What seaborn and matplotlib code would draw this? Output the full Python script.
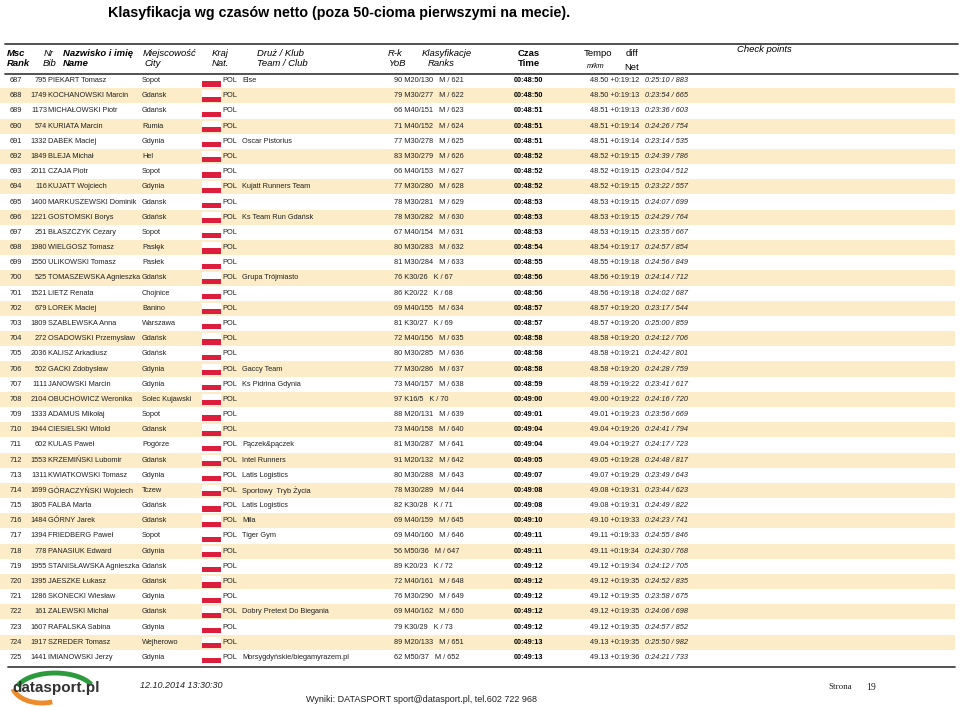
"""
Results page: net time classification, rows 687-725, with striped rows
"""
import numpy as np
import pandas as pd
import matplotlib
matplotlib.use("Agg")
import matplotlib.pyplot as plt
from matplotlib.colors import ListedColormap
from matplotlib.patches import Rectangle
import seaborn as sns

# table data
rank = [687, 688, 689, 690, 691, 692, 693, 694, 695, 696, 697, 698, 699, 700, 701, 702, 703, 704, 705, 706,
        707, 708, 709, 710, 711, 712, 713, 714, 715, 716, 717, 718, 719, 720, 721, 722, 723, 724, 725]
bib = [795, 1749, 1173, 574, 1332, 1849, 2011, 116, 1400, 1221, 251, 1980, 1550, 525, 1521, 679, 1809, 272, 2036, 502,
       1111, 2104, 1333, 1944, 602, 1553, 1311, 1699, 1805, 1484, 1394, 778, 1955, 1395, 1286, 161, 1607, 1917, 1441]
name = ["PIEKART Tomasz", "KOCHANOWSKI Marcin", "MICHAŁOWSKI Piotr", "KURIATA Marcin", "DABEK Maciej",
        "BLEJA Michał", "CZAJA Piotr", "KUJATT Wojciech", "MARKUSZEWSKI Dominik", "GOSTOMSKI Borys",
        "BŁASZCZYK Cezary", "WIELGOSZ Tomasz", "ULIKOWSKI Tomasz", "TOMASZEWSKA Agnieszka", "LIETZ Renata",
        "LOREK Maciej", "SZABLEWSKA Anna", "OSADOWSKI Przemysław", "KALISZ Arkadiusz", "GACKI Zdobysław",
        "JANOWSKI Marcin", "OBUCHOWICZ Weronika", "ADAMUS Mikołaj", "CIESIELSKI Witold", "KULAS Paweł",
        "KRZEMIŃSKI Lubomir", "KWIATKOWSKI Tomasz", "GÓRACZYŃSKI Wojciech", "FALBA Marta", "GÓRNY Jarek",
        "FRIEDBERG Paweł", "PANASIUK Edward", "STANISŁAWSKA Agnieszka", "JAESZKE Łukasz", "SKONECKI Wiesław",
        "ZALEWSKI Michał", "RAFALSKA Sabina", "SZREDER Tomasz", "IMIANOWSKI Jerzy"]
city = ["Sopot", "Gdańsk", "Gdańsk", "Rumia", "Gdynia", "Hel", "Sopot", "Gdynia", "Gdansk", "Gdańsk",
        "Sopot", "Pasłęk", "Pasłek", "Gdańsk", "Chojnice", "Banino", "Warszawa", "Gdańsk", "Gdańsk", "Gdynia",
        "Gdynia", "Solec Kujawski", "Sopot", "Gdansk", "Pogórze", "Gdańsk", "Gdynia", "Tczew", "Gdańsk", "Gdańsk",
        "Sopot", "Gdynia", "Gdańsk", "Gdańsk", "Gdynia", "Gdańsk", "Gdynia", "Wejherowo", "Gdynia"]
team = ["Else", "", "", "", "Oscar Pistorius", "", "", "Kujatt Runners Team", "", "Ks Team Run Gdańsk",
        "", "", "", "Grupa Trójmiasto", "", "", "", "", "", "Gaccy Team",
        "Ks Pidrina Gdynia", "", "", "", "Pączek&pączek", "Intel Runners", "Latis Logistics", "Sportowy  Tryb Życia",
        "Latis Logistics", "Mila", "Tiger Gym", "", "", "", "", "Dobry Pretext Do Biegania", "", "",
        "Morsygdyńskie/biegamyrazem.pl"]
yob = [90, 79, 66, 71, 77, 83, 66, 77, 78, 78, 67, 80, 81, 76, 86, 69, 81, 72, 80, 77,
       73, 97, 88, 73, 81, 91, 80, 78, 82, 69, 69, 56, 89, 72, 76, 69, 79, 89, 62]
category = ["M20/130", "M30/277", "M40/151", "M40/152", "M30/278", "M30/279", "M40/153", "M30/280", "M30/281",
            "M30/282", "M40/154", "M30/283", "M30/284", "K30/26", "K20/22", "M40/155", "K30/27", "M40/156",
            "M30/285", "M30/286", "M40/157", "K16/5", "M20/131", "M40/158", "M30/287", "M20/132", "M30/288",
            "M30/289", "K30/28", "M40/159", "M40/160", "M50/36", "K20/23", "M40/161", "M30/290", "M40/162",
            "K30/29", "M20/133", "M50/37"]
ranks = ["M / 621", "M / 622", "M / 623", "M / 624", "M / 625", "M / 626", "M / 627", "M / 628", "M / 629",
         "M / 630", "M / 631", "M / 632", "M / 633", "K / 67", "K / 68", "M / 634", "K / 69", "M / 635",
         "M / 636", "M / 637", "M / 638", "K / 70", "M / 639", "M / 640", "M / 641", "M / 642", "M / 643",
         "M / 644", "K / 71", "M / 645", "M / 646", "M / 647", "K / 72", "M / 648", "M / 649", "M / 650",
         "K / 73", "M / 651", "M / 652"]
net_time = ["00:48:50", "00:48:50", "00:48:51", "00:48:51", "00:48:51", "00:48:52", "00:48:52", "00:48:52",
            "00:48:53", "00:48:53", "00:48:53", "00:48:54", "00:48:55", "00:48:56", "00:48:56", "00:48:57",
            "00:48:57", "00:48:58", "00:48:58", "00:48:58", "00:48:59", "00:49:00", "00:49:01", "00:49:04",
            "00:49:04", "00:49:05", "00:49:07", "00:49:08", "00:49:08", "00:49:10", "00:49:11", "00:49:11",
            "00:49:12", "00:49:12", "00:49:12", "00:49:12", "00:49:12", "00:49:13", "00:49:13"]
tempo = ["48.50", "48.50", "48.51", "48.51", "48.51", "48.52", "48.52", "48.52", "48.53", "48.53", "48.53",
         "48.54", "48.55", "48.56", "48.56", "48.57", "48.57", "48.58", "48.58", "48.58", "48.59", "49.00",
         "49.01", "49.04", "49.04", "49.05", "49.07", "49.08", "49.08", "49.10", "49.11", "49.11", "49.12",
         "49.12", "49.12", "49.12", "49.12", "49.13", "49.13"]
diff = ["+0:19:12", "+0:19:13", "+0:19:13", "+0:19:14", "+0:19:14", "+0:19:15", "+0:19:15", "+0:19:15",
        "+0:19:15", "+0:19:15", "+0:19:15", "+0:19:17", "+0:19:18", "+0:19:19", "+0:19:18", "+0:19:20",
        "+0:19:20", "+0:19:20", "+0:19:21", "+0:19:20", "+0:19:22", "+0:19:22", "+0:19:23", "+0:19:26",
        "+0:19:27", "+0:19:28", "+0:19:29", "+0:19:31", "+0:19:31", "+0:19:33", "+0:19:33", "+0:19:34",
        "+0:19:34", "+0:19:35", "+0:19:35", "+0:19:35", "+0:19:35", "+0:19:35", "+0:19:36"]
split = ["0:25:10 / 883", "0:23:54 / 665", "0:23:36 / 603", "0:24:26 / 754", "0:23:14 / 535", "0:24:39 / 786",
         "0:23:04 / 512", "0:23:22 / 557", "0:24:07 / 699", "0:24:29 / 764", "0:23:55 / 667", "0:24:57 / 854",
         "0:24:56 / 849", "0:24:14 / 712", "0:24:02 / 687", "0:23:17 / 544", "0:25:00 / 859", "0:24:12 / 706",
         "0:24:42 / 801", "0:24:28 / 759", "0:23:41 / 617", "0:24:16 / 720", "0:23:56 / 669", "0:24:41 / 794",
         "0:24:17 / 723", "0:24:48 / 817", "0:23:49 / 643", "0:23:44 / 623", "0:24:49 / 822", "0:24:23 / 741",
         "0:24:55 / 846", "0:24:30 / 768", "0:24:12 / 705", "0:24:52 / 835", "0:23:58 / 675", "0:24:06 / 698",
         "0:24:57 / 852", "0:25:50 / 982", "0:24:21 / 733"]

df = pd.DataFrame({"rank": rank, "bib": bib, "name": name, "city": city, "team": team, "yob": yob,
                   "cat": category, "cls": ranks, "time": net_time, "tempo": tempo, "diff": diff, "split": split})
n = len(df)

sns.set_theme(style="white")
plt.rcParams['font.family'] = ['Liberation Sans', 'DejaVu Sans']

W, H = 960, 708
fig = plt.figure(figsize=(W / 100, H / 100), dpi=100)

# layout in pixels
row_top = 73.0
row_h = 15.18
tbl_bottom = row_top + n * row_h

# striped background via heatmap
hax = fig.add_axes([0, 1 - tbl_bottom / H, 955 / W, (tbl_bottom - row_top) / H])
stripes = np.array([[i % 2] for i in range(n)])
sns.heatmap(stripes, ax=hax, cmap=ListedColormap(["white", "#fcecc7"]), cbar=False,
            xticklabels=False, yticklabels=False, linewidths=0)
hax.set_axis_off()

# overlay axes in pixel coordinates
ax = fig.add_axes([0, 0, 1, 1])
ax.set_xlim(0, W)
ax.set_ylim(H, 0)
ax.set_axis_off()
ax.patch.set_alpha(0)

ink = "#222222"

ax.text(339, 13, "Klasyfikacja wg czasów netto (poza 50-cioma pierwszymi na mecie).",
        ha="center", va="center", fontsize=10.3, fontweight="bold", color="black")

# header
ax.plot([5, 958], [44, 44], color="#444444", lw=1.3)
ax.plot([5, 958], [74, 74], color="#444444", lw=1.3)
hs = 6.8
hy1, hy2 = 53, 63
hdr = [
    (7, hy1, "Msc", "bold", "italic", "left"), (7, hy2, "Rank", "bold", "italic", "left"),
    (44, hy1, "Nr", "normal", "italic", "left"), (43, hy2, "Bib", "normal", "italic", "left"),
    (63, hy1, "Nazwisko i imię", "bold", "italic", "left"), (63, hy2, "Name", "bold", "italic", "left"),
    (143, hy1, "Miejscowość", "normal", "italic", "left"), (144, hy2, "City", "normal", "italic", "left"),
    (212, hy1, "Kraj", "normal", "italic", "left"), (212, hy2, "Nat.", "normal", "italic", "left"),
    (257, hy1, "Druż / Klub", "normal", "italic", "left"), (257, hy2, "Team / Club", "normal", "italic", "left"),
    (388, hy1, "R-k", "normal", "italic", "left"), (388, hy2, "YoB", "normal", "italic", "left"),
    (422, hy1, "Klasyfikacje", "normal", "italic", "left"), (428, hy2, "Ranks", "normal", "italic", "left"),
    (529, hy1, "Czas", "bold", "normal", "center"), (529, hy2, "Time", "bold", "normal", "center"),
    (584, 54, "Tempo", "normal", "normal", "left"),
    (626, 53, "diff", "normal", "normal", "left"), (624, 68, "Net", "normal", "normal", "left"),
    (737, 50, "Check points", "normal", "italic", "left"),
]
for x, y, s, fw, st, ha in hdr:
    ax.text(x, y, s, ha=ha, va="center", fontsize=hs, fontweight=fw, fontstyle=st, color="black")
ax.text(587, 66, "m/km", ha="left", va="center", fontsize=5.2, fontstyle="italic", color="black")

# rows
fs = 5.3
for i, r in df.iterrows():
    y = row_top + (i + 0.5) * row_h
    ax.text(10, y, str(r["rank"]), ha="left", va="center", fontsize=fs, color=ink)
    ax.text(47, y, str(r["bib"]), ha="right", va="center", fontsize=fs, color=ink)
    ax.text(48.5, y, r["name"], ha="left", va="center", fontsize=fs, color=ink)
    ax.text(142, y, r["city"], ha="left", va="center", fontsize=fs, color=ink)
    ax.add_patch(Rectangle((202, y - 5.5), 19, 6.3, facecolor="white", edgecolor="none"))
    ax.add_patch(Rectangle((202, y + 0.8), 19, 5.2, facecolor="#dc1e3c", edgecolor="none"))
    ax.text(222, y, "POL", ha="left", va="center", fontsize=fs, color=ink)
    ax.text(242, y, r["team"], ha="left", va="center", fontsize=fs, color=ink)
    ax.text(394, y, f"{r['yob']} {r['cat']}   {r['cls']}", ha="left", va="center", fontsize=fs, color=ink)
    ax.text(528, y, r["time"], ha="center", va="center", fontsize=fs, fontweight="bold", color="black")
    ax.text(590, y, f"{r['tempo']} {r['diff']}", ha="left", va="center", fontsize=fs, color=ink)
    ax.text(645, y, r["split"], ha="left", va="center", fontsize=fs, fontstyle="italic", color=ink)

# footer
ax.plot([8, 955], [667, 667], color="#444444", lw=1.3)
# logo swooshes (screen y grows downward)
t = np.radians(np.linspace(25, 160, 60))
ax.plot(55 + 40 * np.cos(t), 693 - 20 * np.sin(t), color="#2e9a3e", lw=3.5, solid_capstyle="butt")
t = np.radians(np.linspace(195, 290, 60))
ax.plot(42 + 30 * np.cos(t), 684 - 19 * np.sin(t), color="#ec8a2c", lw=3.5, solid_capstyle="butt")
ax.text(56, 688, "datasport.pl", ha="center", va="center", fontsize=11, fontweight="bold", color="#333333")
ax.text(140, 685, "12.10.2014 13:30:30", ha="left", va="center", fontsize=6.5, fontstyle="italic", color=ink)
ax.text(306, 700, "Wyniki: DATASPORT sport@datasport.pl, tel.602 722 968", ha="left", va="center",
        fontsize=6.5, color=ink)
ax.text(828, 687, "Strona", ha="left", va="center", fontsize=6.5, color=ink, family="Liberation Serif")
ax.text(866, 687, "19", ha="left", va="center", fontsize=7, color=ink, family="Liberation Serif")

fig.savefig("out.png", dpi=100)
